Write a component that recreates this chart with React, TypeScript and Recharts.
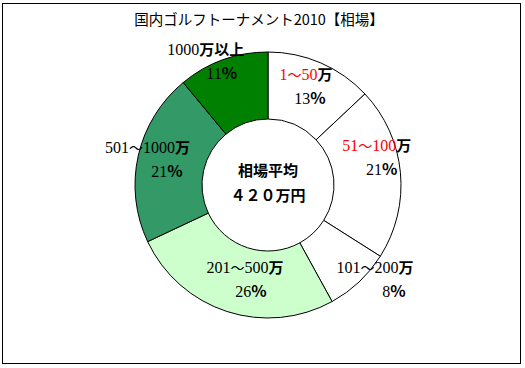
import React from 'react';
import { PieChart, Pie, Cell } from 'recharts';

const title = '国内ゴルフトーナメント2010【相場】';
const centerTitle = '相場平均';
const centerValue = '４２０万円';

const rangeFrom = ['1', '51', '101', '201', '501', '1000'];
const rangeTo = ['50', '100', '200', '500', '1000', ''];
const units = ['万', '万', '万', '万', '万', '万以上'];
const shares = [13, 21, 8, 26, 21, 11];

const sliceColors = ['#FFFFFF', '#FFFFFF', '#FFFFFF', '#CCFFCC', '#339966', '#008000'];
const rangeColors = ['#FF0000', '#FF0000', '#000000', '#000000', '#000000', '#000000'];
const labelRadius = [105, 112, 143, 98, 123, 138];
const labelAngleShift = [2.2, 8.5, 5.2, 4.4, 0.9, 7.0];
const percentDx = [4, 5, 19, 6, 19.5, 16];

const data = rangeFrom.map((r, i) => ({
  name: r + (rangeTo[i] ? '～' + rangeTo[i] : '') + units[i],
  value: shares[i],
}));

const serif = '"Liberation Serif", "DejaVu Serif", serif';
const cjk = '"Noto Sans CJK JP", sans-serif';

const renderLabel = (props: any) => {
  const { cx, cy, midAngle, index } = props;
  const r = labelRadius[index];
  const a = ((midAngle + labelAngleShift[index]) * Math.PI) / 180;
  const x = cx + r * Math.cos(a);
  const y = cy - r * Math.sin(a);
  const c = rangeColors[index];
  return (
    <g>
      <text x={x} y={y - 7} textAnchor="middle" fontSize={16} fontFamily={serif}>
        <tspan fill={c}>{rangeFrom[index]}</tspan>
        {rangeTo[index] ? (
          <>
            <tspan fill={c} fontFamily={cjk} fontSize={14}>〜</tspan>
            <tspan fill={c}>{rangeTo[index]}</tspan>
          </>
        ) : null}
        <tspan fontFamily={cjk} fontWeight="bold" fontSize={15} fill="#000">{units[index]}</tspan>
      </text>
      <text x={x + percentDx[index]} y={y + 17} textAnchor="middle" fontSize={16} fontFamily={serif} fill="#000">
        <tspan>{shares[index]}</tspan>
        <tspan fontFamily={cjk} fontWeight="bold" fontSize={16}>%</tspan>
      </text>
    </g>
  );
};

export default function App() {
  return (
    <div style={{ position: 'absolute', left: 0, top: 0, width: 525, height: 368, background: '#fff' }}>
      <div
        style={{
          position: 'absolute',
          left: 2,
          top: 3,
          width: 517,
          height: 359,
          border: '1px solid #000',
        }}
      />
      <div
        style={{
          position: 'absolute',
          left: 0,
          top: 9,
          width: 518,
          textAlign: 'center',
          fontFamily: cjk,
          fontSize: 14.5,
          lineHeight: '20px',
          color: '#000',
        }}
      >
        {title}
      </div>
      <div style={{ position: 'absolute', left: 0, top: 0 }}>
        <PieChart width={525} height={368} margin={{ top: 0, right: 0, bottom: 0, left: 0 }}>
          <Pie
            data={data}
            dataKey="value"
            nameKey="name"
            cx={268}
            cy={185}
            innerRadius={66}
            outerRadius={133}
            startAngle={90}
            endAngle={-270}
            stroke="#000"
            strokeWidth={1}
            label={renderLabel}
            labelLine={false}
            isAnimationActive={false}
          >
            {data.map((d, i) => (
              <Cell key={d.name} fill={sliceColors[i]} />
            ))}
          </Pie>
        </PieChart>
      </div>
      <div
        style={{
          position: 'absolute',
          left: 208,
          top: 157,
          width: 120,
          textAlign: 'center',
          fontFamily: cjk,
          fontWeight: 'bold',
          fontSize: 15,
          lineHeight: '25px',
          color: '#000',
        }}
      >
        <div>{centerTitle}</div>
        <div>{centerValue}</div>
      </div>
    </div>
  );
}
